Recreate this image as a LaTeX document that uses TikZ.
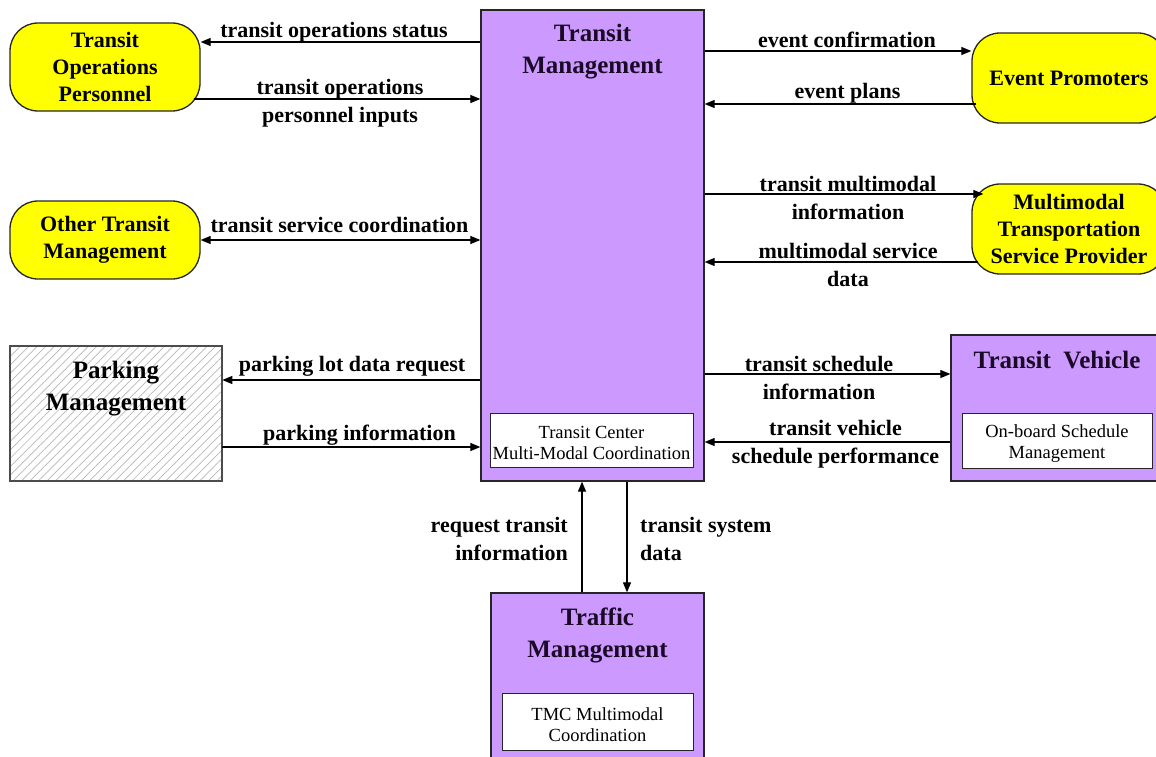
\documentclass[tikz,border=0pt]{standalone}
\usepackage{fontspec}
\setmainfont{Liberation Serif}
\usetikzlibrary{arrows.meta,patterns.meta,calc}
\definecolor{lav}{HTML}{CC99FF}
\definecolor{ylw}{HTML}{FFFF00}
\definecolor{ttl}{HTML}{1A0A26}
\newcommand{\innertext}[2]{\raisebox{-7.5pt}[0pt][0pt]{\parbox{#1}{\centering #2}}}
\begin{document}
\begin{tikzpicture}[x=1pt,y=-1pt,
  box/.style={draw=black!85,line width=1.3pt,inner sep=0pt},
  ybox/.style={box,fill=ylw,rounded corners=28pt,align=center,
    font=\fontsize{22}{27}\selectfont\bfseries},
  pbox/.style={box,fill=lav},
  ibox/.style={draw=black!85,line width=1pt,fill=white,inner sep=0pt,align=center,
    font=\fontsize{18.5}{21}\selectfont},
  ttlt/.style={align=center,text=ttl,inner sep=0pt,font=\fontsize{25}{32}\selectfont\bfseries},
  lbl/.style={align=center,inner sep=0pt,font=\fontsize{22}{28}\selectfont\bfseries},
  arr/.style={line width=1.2pt,-{Triangle[length=10pt,width=8pt]}},
  darr/.style={line width=1.2pt,{Triangle[length=10pt,width=8pt]}-{Triangle[length=10pt,width=8pt]}}
]
\useasboundingbox[fill=white] (0,0) rectangle (1156,757);

% main nodes
\node[pbox,minimum width=223pt,minimum height=471pt] (tm) at (592.5,245.5) {};
\node[ttlt] (tmt) at (592.5,52) {Transit\\Management};
\node[ibox,minimum width=203pt,minimum height=54pt] (tmi) at (591.5,440) {\innertext{203pt}{Transit Center\\Multi-Modal Coordination}};

\node[ybox,minimum width=190pt,minimum height=88pt] (top) at (105,67) {Transit\\Operations\\Personnel};
\node[ybox,minimum width=190pt,minimum height=78pt] (otm) at (105,240) {Other Transit\\Management};
\node[ybox,minimum width=194pt,minimum height=90pt] (ep) at (1069,78) {Event Promoters};
\node[ybox,minimum width=194pt,minimum height=90pt] (mtsp) at (1069,229) {Multimodal\\Transportation\\Service Provider};

\node[box,draw=black!70,pattern={Lines[angle=45,distance=6pt,line width=0.7pt]},pattern color=black!28,
  minimum width=212pt,minimum height=135pt] (pm) at (116,413.5) {};
\node[ttlt,text=black] (pmt) at (116,389) {Parking\\Management};

\node[pbox,minimum width=219pt,minimum height=146pt] (tv) at (1060.5,408) {};
\node[ttlt] (tvt) at (1057,360) {Transit\ \ Vehicle};
\node[ibox,minimum width=190pt,minimum height=55pt] (tvi) at (1057,440.5) {\innertext{190pt}{On-board Schedule\\Management}};

\node[pbox,minimum width=213pt,minimum height=177pt] (trm) at (597.5,681.5) {};
\node[ttlt] (trmt) at (597.5,635) {Traffic\\Management};
\node[ibox,minimum width=191pt,minimum height=57pt] (trmi) at (597.5,721.5) {\innertext{191pt}{TMC Multimodal\\Coordination}};

% connectors
\draw[arr] (tm.west|-0,42) -- (top.east|-0,42);
\draw[arr] ($(top.east|-0,99)+(-7,0)$) -- (tm.west|-0,99);
\draw[darr] (otm.east|-0,240) -- (tm.west|-0,240);
\draw[arr] (tm.west|-0,380) -- (pm.east|-0,380);
\draw[arr] (pm.east|-0,447) -- (tm.west|-0,447);
\draw[arr] (tm.east|-0,51) -- (ep.west|-0,51);
\draw[arr] ($(ep.west|-0,104)+(5,0)$) -- (tm.east|-0,104);
\draw[arr] (tm.east|-0,194) -- ($(mtsp.west|-0,194)+(12,0)$);
\draw[arr] ($(mtsp.west|-0,262)+(7,0)$) -- (tm.east|-0,262);
\draw[arr] (tm.east|-0,374) -- (tv.west|-0,374);
\draw[arr] (tv.west|-0,442) -- (tm.east|-0,442);
\draw[arr] (trm.north-|582,0) -- (tm.south-|582,0);
\draw[arr] (tm.south-|627,0) -- (trm.north-|627,0);

% labels
\node[lbl] (l1) at (334,32) {transit operations status};
\node[lbl] (l2) at (340,103) {transit operations\\personnel inputs};
\node[lbl] (l3) at (339.5,225) {transit service coordination};
\node[lbl] (l4) at (352,366) {parking lot data request};
\node[lbl] (l5) at (359.5,435) {parking information};
\node[lbl] (l6) at (847,40) {event confirmation};
\node[lbl] (l7) at (847.5,93) {event plans};
\node[lbl] (l8) at (848,198) {transit multimodal\\information};
\node[lbl] (l9) at (848,265) {multimodal service\\data};
\node[lbl] (l10) at (819,377.5) {transit schedule\\information};
\node[lbl] (l11) at (835.5,444) {transit vehicle\\schedule performance};
\node[lbl,align=right,anchor=east] (l12) at (568,539) {request transit\\information};
\node[lbl,align=left,anchor=west] (l13) at (640,539) {transit system\\data};
\end{tikzpicture}
\end{document}
